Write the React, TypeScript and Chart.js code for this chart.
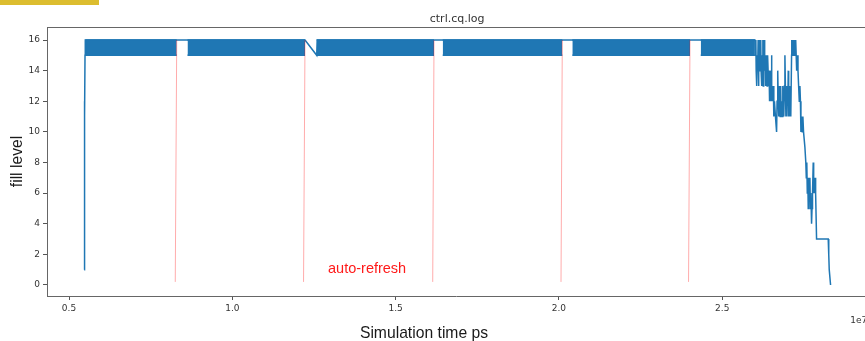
import React, { useEffect, useRef } from "react";
import { Chart, registerables } from "chart.js";

Chart.register(...registerables);

// x values are simulation time in units of 1e7 ps
const X_UNIT = 1e7;

// start-up ramp
const rampTime = [0.5465, 0.5468, 0.5472, 0.5476, 0.548, 0.5484, 0.549, 0.5495, 0.55];
const rampLevel = [1, 10, 12, 10, 12, 11, 15, 16, 16];

// steady part (line outline on top of the 15/16 bands)
const plateauTime = [0.55, 1.2226, 1.2584, 1.26, 2.6];
const plateauLevel = [16, 16, 15, 16, 16];

// dense 15 <-> 16 oscillation segments
const bandStart = [0.55, 0.8628, 1.2584, 1.6442, 2.0411, 2.4342];
const bandEnd = [0.8298, 1.2226, 1.6176, 2.0104, 2.4014, 2.6];
const bandHigh = 16;
const bandLow = 15;

// draining tail
const tailTime = [
  2.6, 2.601, 2.603, 2.604, 2.6052, 2.606, 2.6075, 2.6085, 2.61, 2.611, 2.6125, 2.614, 2.6154, 2.6165,
  2.618, 2.619, 2.6205, 2.6215, 2.623, 2.6245, 2.6256, 2.627, 2.6285, 2.63, 2.6315, 2.633, 2.6345,
  2.636, 2.6375, 2.639, 2.6405, 2.642, 2.6435, 2.645, 2.6465, 2.648, 2.6495, 2.651, 2.652, 2.6535,
  2.655, 2.6565, 2.658, 2.66, 2.663, 2.6665, 2.668, 2.67, 2.6716, 2.673, 2.6745, 2.676, 2.6775, 2.679,
  2.6805, 2.682, 2.684, 2.6855, 2.687, 2.6885, 2.6905, 2.692, 2.6935, 2.695, 2.6965, 2.698, 2.6995,
  2.701, 2.7022, 2.7035, 2.705, 2.7065, 2.708, 2.71, 2.7124, 2.713, 2.7145, 2.716, 2.7175, 2.719,
  2.7205, 2.722, 2.7235, 2.725, 2.7265, 2.728, 2.73, 2.732, 2.734, 2.736, 2.7379, 2.7395, 2.741,
  2.743, 2.745, 2.747, 2.749, 2.7532, 2.756, 2.7575, 2.759, 2.7605, 2.762, 2.7634, 2.765, 2.7665,
  2.7685, 2.77, 2.7715, 2.7736, 2.775, 2.7765, 2.7787, 2.78, 2.7815, 2.783, 2.7845, 2.786, 2.7889,
  2.8246, 2.8262, 2.8277, 2.8318,
];
const tailLevel = [
  16, 15, 16, 14, 15, 13, 15, 14, 16, 13, 15, 14, 16, 15,
  16, 14, 13, 15, 14, 16, 13, 15, 16, 14, 15, 13, 15,
  14, 13, 15, 14, 13, 14, 12, 13, 12, 14, 15, 12, 13,
  12, 13, 11, 12, 11, 10, 12, 14, 12, 11, 13, 12, 11, 13,
  11, 12, 11, 13, 12, 11, 13, 15, 13, 11, 12, 11, 13,
  12, 14, 11, 13, 11, 12, 11, 15, 16, 15, 16, 15, 16,
  15, 16, 15, 16, 15, 14, 15, 14, 13, 12, 13, 12, 10,
  11, 10, 11, 10, 9, 8, 7, 8, 6, 7, 5, 7, 6,
  7, 5, 6, 4, 5, 6, 8, 6, 7, 6, 7, 6, 3,
  3, 2, 1, 0,
];

// auto-refresh markers
const refreshBottom = [0.8253, 1.2181, 1.6136, 2.0064, 2.3969];
const refreshTop = [0.8298, 1.2226, 1.6176, 2.0104, 2.4014];
const refreshLow = 0.2;
const refreshHigh = 16;

// axes
const xTicks = [0.5, 1.0, 1.5, 2.0, 2.5];
const yTicks = [0, 2, 4, 6, 8, 10, 12, 14, 16];
const xMin = 0.4326;
const xMax = 2.9372;
const xAxisFullMax = 2.944;
const yMin = -0.72;
const yMax = 16.85;

const chartTitle = "ctrl.cq.log";
const xLabel = "Simulation time ps";
const yLabel = "fill level";
const noteText = "auto-refresh";
const noteX = 1.293;
const noteY = 0.78;

const BLUE = "#1f77b4";

const pts = (xs: number[], ys: number[]) => xs.map((x, i) => ({ x: x * X_UNIT, y: ys[i] }));

const textPlugin = {
  id: "texts",
  afterDraw(chart: any) {
    const { ctx, chartArea, scales } = chart;
    const xs = scales.x;
    const ys = scales.y;
    ctx.save();
    // top spine
    ctx.strokeStyle = "#666";
    ctx.lineWidth = 1;
    ctx.beginPath();
    ctx.moveTo(chartArea.left, chartArea.top + 0.5);
    ctx.lineTo(chartArea.right, chartArea.top + 0.5);
    ctx.stroke();

    const fullRight = xs.getPixelForValue(xAxisFullMax * X_UNIT);
    // title
    ctx.fillStyle = "#333";
    ctx.font = '11px "DejaVu Sans"';
    ctx.textAlign = "center";
    ctx.textBaseline = "alphabetic";
    ctx.fillText(chartTitle, (chartArea.left + fullRight) / 2, 21.5);

    // offset text
    ctx.font = '9px "DejaVu Sans"';
    ctx.textAlign = "right";
    ctx.fillText("1e7", fullRight, 322.5);

    // axis labels
    ctx.fillStyle = "#1a1a1a";
    ctx.font = '15.7px "Liberation Sans"';
    ctx.textAlign = "center";
    ctx.fillText(xLabel, 424, 338);
    ctx.save();
    ctx.translate(22, (chartArea.top + chartArea.bottom) / 2);
    ctx.rotate(-Math.PI / 2);
    ctx.fillText(yLabel, 0, 0);
    ctx.restore();

    // annotation
    ctx.fillStyle = "#ff1a1a";
    ctx.font = '14.5px "Liberation Sans"';
    ctx.textAlign = "left";
    ctx.fillText(noteText, xs.getPixelForValue(noteX * X_UNIT), ys.getPixelForValue(noteY));
    ctx.restore();
  },
};

export default function App() {
  const canvasRef = useRef<HTMLCanvasElement | null>(null);

  useEffect(() => {
    if (!canvasRef.current) return;

    const refreshSets = refreshBottom.map((b, i) => ({
      data: [
        { x: b * X_UNIT, y: refreshLow },
        { x: refreshTop[i] * X_UNIT, y: refreshHigh },
      ],
      borderColor: "rgba(255,0,0,0.33)",
      borderWidth: 1,
      pointRadius: 0,
      fill: false,
    }));

    const mainSet = {
      data: [...pts(rampTime, rampLevel), ...pts(plateauTime, plateauLevel), ...pts(tailTime, tailLevel)],
      borderColor: BLUE,
      borderWidth: 1.5,
      pointRadius: 0,
      fill: false,
    };

    const bandTopSets = bandStart.map((s, i) => ({
      data: [
        { x: s * X_UNIT, y: bandHigh },
        { x: bandEnd[i] * X_UNIT, y: bandHigh },
      ],
      borderColor: BLUE,
      backgroundColor: BLUE,
      borderWidth: 1.5,
      pointRadius: 0,
      fill: { value: bandLow },
    }));
    const bandBottomSets = bandStart.map((s, i) => ({
      data: [
        { x: s * X_UNIT, y: bandLow },
        { x: bandEnd[i] * X_UNIT, y: bandLow },
      ],
      borderColor: BLUE,
      borderWidth: 1.5,
      pointRadius: 0,
      fill: false,
    }));

    const tickFont = { family: "DejaVu Sans", size: 9 };

    const chart = new Chart(canvasRef.current, {
      type: "line",
      data: { datasets: [...refreshSets, mainSet, ...bandTopSets, ...bandBottomSets] as any },
      options: {
        animation: false,
        responsive: false,
        devicePixelRatio: 1,
        events: [],
        layout: { padding: { top: 27, left: 0, right: 0, bottom: 0 } },
        elements: { line: { tension: 0 } },
        plugins: { legend: { display: false }, tooltip: { enabled: false }, title: { display: false } },
        scales: {
          x: {
            type: "linear",
            min: xMin * X_UNIT,
            max: xMax * X_UNIT,
            afterBuildTicks: (s: any) => {
              s.ticks = xTicks.map((v) => ({ value: v * X_UNIT }));
            },
            afterFit: (s: any) => {
              s.height = 45;
            },
            ticks: {
              font: tickFont,
              color: "#333",
              padding: 3,
              maxRotation: 0,
              autoSkip: false,
              callback: (v: any) => (Number(v) / X_UNIT).toFixed(1),
            },
            grid: { drawOnChartArea: false, drawTicks: true, tickLength: 4, color: "#555" },
            border: { display: true, color: "#666", width: 1 },
          },
          y: {
            type: "linear",
            min: yMin,
            max: yMax,
            afterBuildTicks: (s: any) => {
              s.ticks = yTicks.map((v) => ({ value: v }));
            },
            afterFit: (s: any) => {
              s.width = 47;
            },
            ticks: {
              font: tickFont,
              color: "#333",
              padding: 3,
              autoSkip: false,
              callback: (v: any) => String(v),
            },
            grid: { drawOnChartArea: false, drawTicks: true, tickLength: 4, color: "#555" },
            border: { display: true, color: "#666", width: 1 },
          },
        },
      },
      plugins: [textPlugin],
    } as any);

    return () => chart.destroy();
  }, []);

  return (
    <div style={{ position: "fixed", left: 0, top: 0, width: 865, height: 341, background: "#fff" }}>
      <canvas ref={canvasRef} width={865} height={341} style={{ display: "block" }} />
      <div style={{ position: "absolute", left: 0, top: 0, width: 99, height: 5, background: "#dcbd2f" }} />
    </div>
  );
}
